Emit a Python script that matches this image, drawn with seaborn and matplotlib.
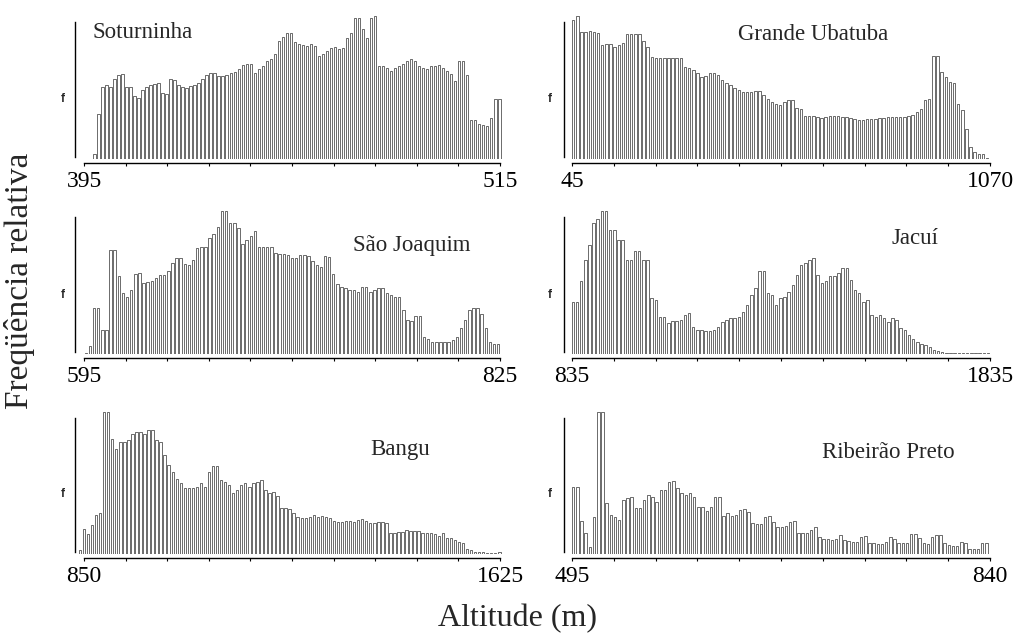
import numpy as np
import pandas as pd
import matplotlib
matplotlib.use("Agg")
import matplotlib.pyplot as plt
import seaborn as sns

sns.set_theme(style="ticks")
plt.rcParams['font.family'] = ['Liberation Serif', 'DejaVu Serif']

# ---------------- data ----------------
names = ["Soturninha", "Grande Ubatuba", "São Joaquim", "Jacuí", "Bangu", "Ribeirão Preto"]
axis_min = [395, 45, 595, 835, 850, 495]
axis_max = [515, 1070, 825, 1835, 1625, 840]
# altitude of the first and last histogram class centre
first_class = [398, 48, 596, 837, 842.5, 496]
last_class = [514.8, 1063, 824, 1830, 1623.7, 837]

freq_soturninha = [16, 136, 216, 220, 215, 238, 250, 253, 216, 216,
                   190, 183, 208, 216, 220, 225, 226, 198, 196, 238,
                   236, 220, 216, 213, 218, 222, 228, 238, 250, 256,
                   256, 248, 248, 250, 256, 260, 268, 280, 283, 283,
                   258, 268, 278, 293, 298, 313, 353, 366, 376, 376,
                   350, 343, 340, 338, 343, 338, 308, 313, 323, 333,
                   335, 330, 333, 363, 376, 423, 423, 388, 363, 423,
                   428, 278, 278, 273, 263, 273, 278, 283, 293, 298,
                   293, 278, 273, 268, 278, 278, 280, 273, 263, 253,
                   233, 293, 293, 250, 118, 116, 106, 103, 98, 123,
                   180, 180]
freq_ubatuba = [416, 428, 381, 381, 384, 381, 376, 341, 344, 344,
                336, 341, 346, 373, 374, 373, 374, 354, 336, 306,
                301, 301, 301, 301, 301, 301, 301, 276, 271, 266,
                256, 246, 248, 258, 258, 251, 236, 228, 221, 214,
                206, 201, 201, 201, 204, 204, 191, 181, 171, 166,
                161, 171, 178, 176, 154, 151, 128, 128, 128, 126,
                124, 126, 128, 128, 128, 126, 126, 124, 121, 118,
                118, 121, 121, 121, 123, 124, 126, 126, 126, 126,
                126, 128, 131, 141, 151, 176, 181, 308, 308, 261,
                244, 231, 226, 166, 146, 91, 36, 21, 16, 14,
                4]
freq_sao_joaquim = [4, 24, 136, 136, 71, 71, 311, 311, 231, 181,
                    171, 191, 238, 241, 211, 214, 218, 226, 236, 236,
                    246, 271, 286, 286, 268, 266, 281, 316, 318, 318,
                    346, 358, 378, 426, 426, 391, 391, 376, 328, 341,
                    351, 366, 318, 318, 318, 318, 301, 298, 298, 296,
                    286, 286, 294, 296, 291, 276, 266, 258, 291, 288,
                    238, 208, 201, 196, 191, 191, 186, 201, 201, 186,
                    191, 196, 196, 181, 176, 171, 171, 131, 101, 98,
                    114, 114, 51, 46, 36, 36, 36, 36, 36, 41,
                    51, 76, 101, 131, 136, 136, 118, 76, 36, 31,
                    31]
freq_jacui = [156, 156, 216, 281, 326, 391, 401, 426, 426, 368,
              368, 341, 341, 281, 281, 306, 306, 281, 281, 166,
              161, 111, 111, 91, 98, 98, 101, 116, 121, 81,
              71, 71, 68, 68, 71, 81, 96, 101, 106, 108,
              111, 126, 146, 176, 196, 246, 246, 181, 176, 146,
              166, 171, 186, 206, 236, 266, 271, 281, 286, 236,
              211, 216, 231, 231, 241, 256, 256, 221, 191, 181,
              156, 161, 116, 111, 116, 106, 96, 106, 101, 76,
              71, 56, 46, 36, 31, 26, 21, 11, 8, 6,
              4, 4, 4, 4, 4, 4, 4, 4, 4, 4,
              4]
freq_bangu = [12, 74, 60, 87, 117, 124, 427, 427, 347, 317,
              337, 337, 344, 362, 367, 367, 362, 372, 374, 342,
              337, 297, 267, 247, 227, 212, 197, 197, 197, 202,
              212, 202, 247, 264, 264, 222, 217, 207, 182, 192,
              207, 212, 202, 212, 217, 222, 192, 182, 187, 174,
              137, 137, 134, 124, 112, 107, 107, 112, 117, 112,
              114, 112, 107, 100, 97, 97, 100, 100, 97, 102,
              104, 100, 94, 94, 97, 97, 94, 62, 64, 67,
              67, 72, 70, 70, 70, 64, 62, 64, 60, 54,
              62, 47, 47, 42, 37, 32, 14, 12, 7, 5,
              5, 4, 4, 4, 6]
freq_ribeirao = [202, 202, 100, 62, 22, 112, 427, 427, 152, 117,
                 112, 102, 162, 167, 172, 137, 137, 162, 177, 172,
                 157, 192, 192, 217, 220, 197, 182, 177, 182, 172,
                 142, 140, 130, 140, 172, 172, 114, 122, 114, 117,
                 132, 134, 127, 94, 90, 90, 112, 114, 97, 82,
                 82, 84, 97, 99, 62, 62, 62, 72, 82, 52,
                 44, 44, 42, 44, 57, 42, 40, 37, 37, 52,
                 54, 34, 32, 30, 30, 37, 50, 44, 34, 32,
                 34, 60, 60, 47, 32, 30, 52, 57, 58, 32,
                 27, 24, 24, 37, 32, 14, 14, 14, 32, 34]
freqs = [freq_soturninha, freq_ubatuba, freq_sao_joaquim,
         freq_jacui, freq_bangu, freq_ribeirao]

# ---------------- layout (pixels) ----------------
W, H = 1014, 639
col_spine = [75, 564]
col_x0 = [84, 572]
col_x1 = [500, 990]
row_base = [159, 354, 554]
row_top = [16, 211, 412]
title_pos = [(93, 33), (738, 35), (353, 245), (892, 238), (370, 450), (822, 453)]
f_pos_x = [63, 550]
f_pos_y = [99, 295, 494]

fig = plt.figure(figsize=(W / 100, H / 100), dpi=100)
fig.patch.set_facecolor("white")

for i, name in enumerate(names):
    r, c = divmod(i, 2)
    sp, x0, x1 = col_spine[c], col_x0[c], col_x1[c]
    base, top = row_base[r], row_top[r]
    ax = fig.add_axes([sp / W, 1 - base / H, (x1 + 5 - sp) / W, (base - top) / H])
    amin, amax = axis_min[i], axis_max[i]
    k = (amax - amin) / (x1 - x0)
    f = np.asarray(freqs[i], dtype=float)
    n = len(f)
    centers = np.linspace(first_class[i], last_class[i], n)
    step = centers[1] - centers[0]
    edges = np.append(centers - step / 2, centers[-1] + step / 2).tolist()
    df = pd.DataFrame({"altitude": centers, "freq": f})
    sns.histplot(data=df, x="altitude", weights="freq", bins=edges, shrink=0.6,
                 color="white", edgecolor="#1a1a1a", linewidth=0.45,
                 alpha=1, ax=ax)
    ax.set_xlim(amin - (x0 - sp) * k, amax + 5 * k)
    ymax = f.max()
    ax.set_ylim(0, ymax)
    ax.set_facecolor("none")
    for s in ["top", "right"]:
        ax.spines[s].set_visible(False)
    ax.spines["left"].set_bounds(0.015 * ymax, 0.96 * ymax)
    ax.spines["left"].set_color("black")
    ax.spines["left"].set_linewidth(1.0)
    ax.spines["bottom"].set_position(("outward", 3))
    ax.spines["bottom"].set_bounds(amin, amax)
    ax.spines["bottom"].set_color("black")
    ax.spines["bottom"].set_linewidth(1.0)
    ticks = np.linspace(amin, amax, 11)
    ax.set_xticks(ticks)
    ax.set_xticklabels([str(amin)] + [""] * 9 + [str(amax)])
    ax.set_yticks([])
    ax.tick_params(axis="x", direction="out", length=2.5, width=0.8,
                   pad=3, labelsize=17, colors="black", bottom=True)
    ax.set_xlabel("")
    ax.set_ylabel("")
    tx, ty = title_pos[i]
    fig.text(tx / W, 1 - ty / H, name, ha="left", va="center", fontsize=16.5)
    fig.text(f_pos_x[c] / W, 1 - f_pos_y[r] / H, "f", ha="center", va="center",
             fontsize=8.5, fontweight="bold", family=["Liberation Sans", "DejaVu Sans"])

fig.text(20 / W, 1 - 281 / H, "Freqüência relativa", rotation=90,
         ha="center", va="center", fontsize=24)
fig.text(517 / W, 1 - 619 / H, "Altitude (m)", ha="center", va="center", fontsize=23)

fig.savefig("out.png", dpi=100, facecolor="white")
